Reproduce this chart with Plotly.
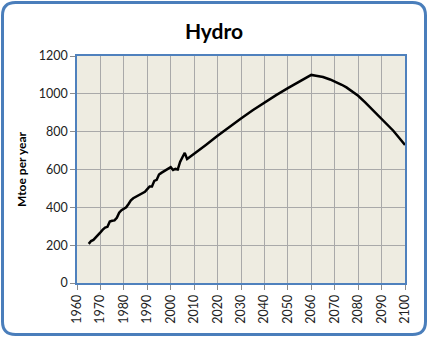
import plotly.graph_objects as go

# ---- data ----
hist_years = list(range(1965, 2010))
hist_values = [207, 222, 228, 240, 255, 268, 282, 293, 297, 325,
               329, 331, 345, 372, 385, 393, 400, 418, 437, 448,
               455, 461, 468, 478, 482, 496, 510, 510, 540, 545,
               573, 582, 590, 597, 603, 612, 597, 603, 600, 640,
               665, 688, 655, 664, 672]
proj_years = [2010, 2015, 2020, 2025, 2030, 2035, 2040, 2045, 2050, 2055,
              2060, 2062, 2065, 2068, 2070, 2073, 2075, 2078, 2080, 2083,
              2085, 2088, 2090, 2093, 2095, 2098, 2100]
proj_values = [681, 730, 778, 825, 870, 913, 954, 993, 1030, 1065,
               1100, 1096, 1089, 1076, 1066, 1048, 1034, 1010, 990, 955,
               930, 895, 868, 830, 805, 760, 730]
years = hist_years + proj_years
values = hist_values + proj_values

x_ticks = list(range(1960, 2101, 10))
y_ticks = list(range(0, 1201, 200))

W, H = 428, 337
ML, MR, MT, MB = 77, 23, 56, 54
PW, PH = W - ML - MR, H - MT - MB

def px(x):
    return (x - ML) / PW

def py(y):
    return (H - MB - y) / PH

def rounded_rect(l, t, r, b, rad):
    pts = [
        f"M {px(l+rad)},{py(t)}",
        f"L {px(r-rad)},{py(t)}",
        f"Q {px(r)},{py(t)} {px(r)},{py(t+rad)}",
        f"L {px(r)},{py(b-rad)}",
        f"Q {px(r)},{py(b)} {px(r-rad)},{py(b)}",
        f"L {px(l+rad)},{py(b)}",
        f"Q {px(l)},{py(b)} {px(l)},{py(b-rad)}",
        f"L {px(l)},{py(t+rad)}",
        f"Q {px(l)},{py(t)} {px(l+rad)},{py(t)}",
        "Z",
    ]
    return " ".join(pts)

fig = go.Figure()
fig.add_trace(go.Scatter(x=years, y=values, mode="lines",
                         line=dict(color="black", width=2.5),
                         showlegend=False, hoverinfo="skip"))

fig.add_shape(type="path", xref="paper", yref="paper",
              path=rounded_rect(2.5, 2.5, 425.5, 334.5, 13),
              line=dict(color="#4A7EBB", width=3), layer="below")

fig.update_layout(
    width=W, height=H,
    margin=dict(l=ML, r=MR, t=MT, b=MB),
    paper_bgcolor="white",
    plot_bgcolor="#EEECE1",
    font=dict(family="Lato, Open Sans, sans-serif", size=12, color="#222"),
    title=dict(text="<b>Hydro</b>", x=0.5, xanchor="center",
               y=1 - 32 / H, yanchor="middle",
               font=dict(size=21, color="black", family="Lato, Open Sans, sans-serif")),
    xaxis=dict(range=[1960, 2100], tickvals=x_ticks, ticktext=[str(v) for v in x_ticks],
               tickangle=-90, showgrid=True, gridcolor="#A9A9A9", gridwidth=1,
               showline=True, linecolor="#4F81BD", linewidth=1.5, mirror=True,
               ticks="outside", ticklen=5, tickcolor="#8C8C8C",
               zeroline=False, tickfont=dict(size=12.5)),
    yaxis=dict(range=[0, 1200], tickvals=y_ticks,
               showgrid=True, gridcolor="#A9A9A9", gridwidth=1,
               showline=True, linecolor="#4F81BD", linewidth=1.5, mirror=True,
               ticks="outside", ticklen=5, tickcolor="#8C8C8C",
               zeroline=False, tickfont=dict(size=12.5),
               title=dict(text="<b>Mtoe per year</b>", standoff=10,
                          font=dict(size=12, color="black"))),
)

fig.write_html("out.html")
